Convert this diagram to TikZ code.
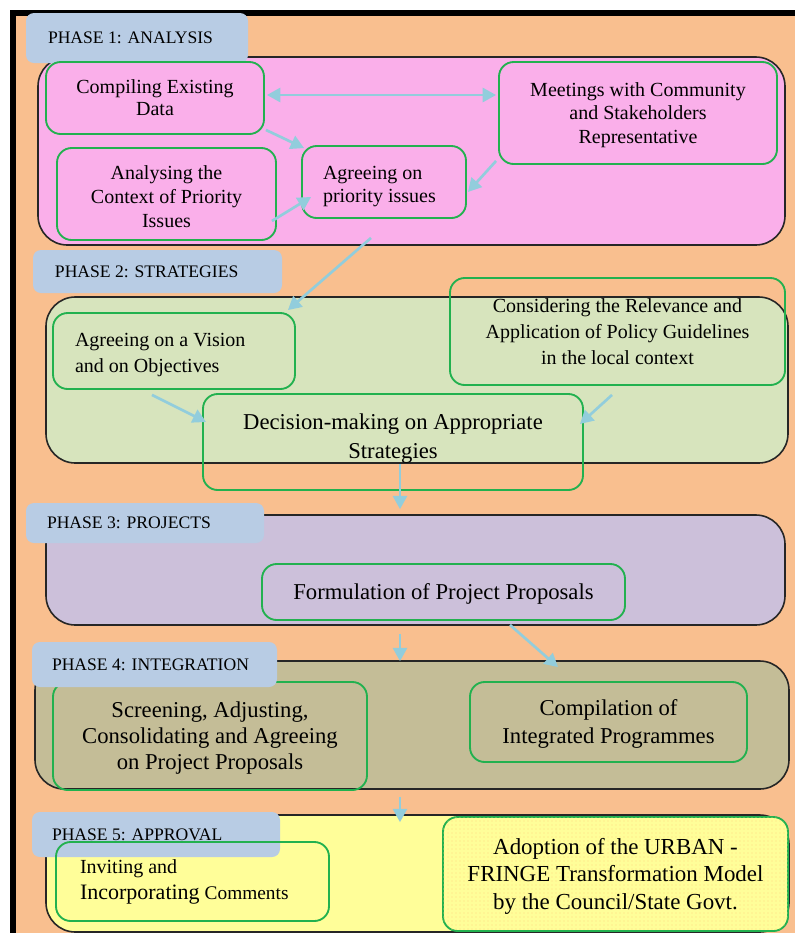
\documentclass[tikz,border=0pt]{standalone}
\usepackage{fontspec}
\setmainfont{Liberation Serif}
\usetikzlibrary{arrows.meta,calc,patterns}
\definecolor{bgor}{HTML}{F9BF8F}
\definecolor{pinkf}{HTML}{FAAFEA}
\definecolor{greenf}{HTML}{D7E4BD}
\definecolor{purplef}{HTML}{CCC0DA}
\definecolor{olivef}{HTML}{C4BD97}
\definecolor{yellowf}{HTML}{FFFE99}
\definecolor{labblue}{HTML}{B8CCE4}
\definecolor{boxgreen}{HTML}{22B14F}
\definecolor{arrblue}{HTML}{92CDDC}
\newcommand\myup[1]{\rule{0pt}{#1em}}
\begin{document}
\begin{tikzpicture}[x=0.75pt,y=-0.75pt,
  phase/.style={draw=black!85, line width=1.2pt, rounded corners=22pt, inner sep=0pt},
  tag/.style={fill=labblue, rounded corners=6pt, inner ysep=0pt, align=flush left,
    font=\fontsize{13.2}{15}\selectfont},
  item/.style={draw=boxgreen, line width=1.4pt, rounded corners=11pt, inner sep=0pt, align=center},
  wh/.style 2 args={minimum width=#1*0.75pt, minimum height=#2*0.75pt},
  arr/.style={draw=arrblue, line width=2pt, -{Triangle[length=10pt,width=10.5pt]}},
  darr/.style={draw=arrblue, line width=2pt, {Triangle[length=10pt,width=10.5pt]}-{Triangle[length=10pt,width=10.5pt]}},
  fA/.style={font=\fontsize{15}{17.4}\selectfont},
  fB/.style={font=\fontsize{15}{19.5}\selectfont},
  fC/.style={font=\fontsize{17}{21.75}\selectfont},
]
\useasboundingbox (0,0) rectangle (795,933);
\fill[white] (0,0) rectangle (795,933);
\fill[black] (10,10) rectangle (795,933);
\fill[bgor] (16,16) rectangle (795,933);

% phase containers
\node[phase, fill=pinkf, wh={747}{188}] (p1) at (411.5,151) {};
\node[phase, fill=greenf, wh={742}{166}] (p2) at (417,380) {};
\node[phase, fill=purplef, wh={739}{110}] (p3) at (415.5,570) {};
\node[phase, fill=olivef, wh={754}{128}] (p4) at (412,725) {};
\node[phase, fill=yellowf, wh={743}{117}] (p5) at (417.5,873.5) {};

\node[tag, wh={222}{50}, inner xsep=22*0.75pt, text width=178*0.75pt] (l1) at (137,38) {PHASE 1: ANALYSIS};

% phase 1
\node[item, wh={218}{72}, font=\fontsize{15}{16.6}\selectfont] (compile) at (155,98) {Compiling Existing\\Data};
\node[item, fA, wh={278}{102}] (meet) at (638,113) {\myup{0.9}Meetings with Community\\and Stakeholders\\Representative};
\node[item, wh={219}{92}, font=\fontsize{15}{17.8}\selectfont] (analyse) at (166.5,194) {\myup{0.95}Analysing the\\Context of Priority\\Issues};
\node[item, fA, wh={164}{72}, align=flush left, inner xsep=21*0.75pt, text width=122*0.75pt] (agree) at (384,182) {\myup{1.15}Agreeing on\\priority issues};

% phase 2
\node[item, fB, wh={242}{76}, align=flush left, inner xsep=22*0.75pt, text width=198*0.75pt] (vision) at (174,351) {\myup{1.05}Agreeing on a Vision\\and on Objectives};
\node[item, fB, wh={335}{107}] (consider) at (617.5,331.5) {Considering the Relevance and\\Application of Policy Guidelines\\in the local context};
\node[item, fC, wh={380}{96}] (decide) at (393,442) {Decision-making on Appropriate\\Strategies\rule[-9pt]{0pt}{1pt}};

% phase 3
\node[item, fC, wh={363}{56}] (formul) at (443.5,592) {\myup{0.88}Formulation of Project Proposals};

% phase 4
\node[item, wh={314}{108}, font=\fontsize{17}{19.5}\selectfont] (screen) at (210,736) {\myup{0.9}Screening, Adjusting,\\Consolidating and Agreeing\\on Project Proposals};
\node[item, wh={277}{80}, font=\fontsize{17}{21}\selectfont] (compil) at (608.5,722) {\myup{0.88}Compilation of\\Integrated Programmes};

\node[tag, wh={249}{43}, inner xsep=22*0.75pt, text width=205*0.75pt] (l2) at (157.5,271.5) {PHASE 2: STRATEGIES};
\node[tag, wh={238}{40}, inner xsep=21*0.75pt, text width=196*0.75pt] (l3) at (145,523) {PHASE 3: PROJECTS};
\node[tag, wh={245}{45}, inner xsep=20*0.75pt, text width=205*0.75pt] (l4) at (154.5,664.5) {PHASE 4: INTEGRATION};
\node[tag, wh={248}{45}, inner xsep=20*0.75pt, text width=208*0.75pt] (l5) at (156,834.5) {PHASE 5: APPROVAL};

% phase 5
\node[item, fB, wh={273}{79}, align=flush left, inner xsep=24*0.75pt, text width=225*0.75pt] (invite) at (192.5,881.5)
  {Inviting and\\{\fontsize{16.5}{19.5}\selectfont Incorporating} {\fontsize{14.5}{19.5}\selectfont Comments}};
\node[item, fill=yellowf, wh={345}{114}, font=\fontsize{17.2}{20.6}\selectfont,
  postaction={pattern=dots, pattern color=red!15!yellowf}] (adopt) at (615.5,874)
  {\myup{0.88}Adoption of the URBAN -\\FRINGE Transformation Model\\by the Council/State Govt.};

% connectors
\draw[darr] ($(compile.east)+(2,-3)$) -- ($(meet.west)+(-2,-18)$);
\draw[arr] ($(compile.south east)+(1,-5)$) -- ($(agree.north west)+(3,3)$);
\draw[arr] ($(analyse.east)+(-5,27)$) -- ($(agree.west)+(10,15)$);
\draw[arr] ($(meet.south west)+(-2,-4)$) -- ($(agree.east)+(1,10)$);
\draw[arr] ($(agree.south)+(-13,19)$) -- ($(vision.north east)+(-8,-2)$);
\draw[arr] ($(vision.south)+(-22,5)$) -- ($(decide.west)+(4,-20)$);
\draw[arr] ($(consider.south)+(-5.5,9)$) -- ($(decide.east)+(-4,-18)$);
\draw[arr] ($(decide.south)+(7,-27)$) -- ($(p3.north)+(-15.5,-5)$);
\draw[arr] ($(formul.south)+(-43.5,13)$) -- ($(p4.north)+(-12,1)$);
\draw[arr] ($(formul.south)+(66.5,4)$) -- ($(compil.north)+(-50.5,-14)$);
\draw[arr] ($(p4.south)+(-12,7)$) -- ($(p5.north)+(-17.5,8)$);
\end{tikzpicture}
\end{document}
